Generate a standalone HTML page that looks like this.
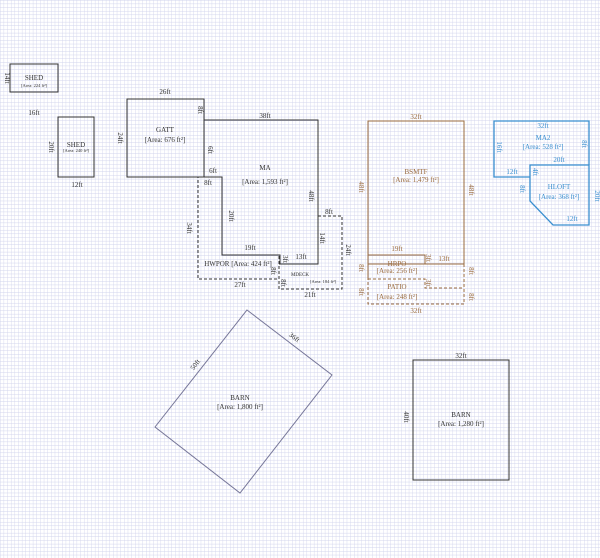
<!DOCTYPE html>
<html><head><meta charset="utf-8"><style>
html,body{margin:0;padding:0;background:#fff;}
svg{display:block;font-family:"Liberation Serif",serif;}
</style></head><body>
<svg width="600" height="558" viewBox="0 0 600 558" xmlns="http://www.w3.org/2000/svg">
<defs>
<pattern id="g" width="3.65" height="3.65" patternUnits="userSpaceOnUse">
<path d="M0 0H3.65M0 0V3.65" stroke="#cfd2ec" stroke-width="0.8" fill="none"/>
</pattern>
</defs>
<rect width="600" height="558" fill="#fff"/>
<rect width="600" height="558" fill="url(#g)"/>

<g fill="none" stroke="#333" stroke-width="1">
<rect x="10" y="64" width="48" height="28"/>
<rect x="58" y="117" width="36" height="60"/>
<rect x="127" y="99" width="77" height="78"/>
<polygon points="204,120 318,120 318,264 280,264 280,255 222,255 222,177 204,177"/>
<rect x="413" y="360" width="96" height="120"/>
</g>
<g fill="none" stroke="#333" stroke-width="1" stroke-dasharray="3,2">
<polygon points="198,177 222,177 222,255 279,255 279,279 198,279"/>
<polygon points="318,216 342,216 342,289 279,289 279,264 318,264"/>
</g>
<polygon points="247,310 332,375 240,493 155,427" fill="none" stroke="#777799" stroke-width="1"/>

<g fill="none" stroke="#9a6b3f" stroke-width="1">
<rect x="368" y="121" width="96" height="143"/>
<polyline points="368,255 425,255 425,264"/>
<line x1="368" y1="255" x2="368" y2="279"/>
</g>
<g fill="none" stroke="#9a6b3f" stroke-width="1" stroke-dasharray="3,2">
<polyline points="368,279 425,279 425,288 464,288"/>
<polyline points="464,264 464,304 368,304 368,279"/>
</g>

<g fill="none" stroke="#3a8fd0" stroke-width="1.3">
<polyline points="530,177 494,177 494,121 589,121 589,165"/>
<polygon points="530,165 589,165 589,225 553,225 530,201"/>
</g>

<g font-size="7" fill="#333" text-anchor="middle">
<text x="34" y="80">SHED</text><text x="34" y="87" font-size="4.5">[Area: 224 ft²]</text>
<text x="34" y="115">16ft</text>
<text transform="translate(5,78) rotate(90)">14ft</text>
<text x="76" y="147">SHED</text><text x="76" y="152" font-size="4.5">[Area: 240 ft²]</text>
<text x="77" y="187">12ft</text>
<text transform="translate(49,147) rotate(90)">20ft</text>
<text x="165" y="94">26ft</text>
<text x="165" y="132">GATT</text><text x="165" y="142">[Area: 676 ft²]</text>
<text transform="translate(118,138) rotate(90)">24ft</text>
<text transform="translate(198,110) rotate(90)">8ft</text>
<text transform="translate(208,150) rotate(90)">6ft</text>
<text x="265" y="118">38ft</text>
<text x="265" y="170">MA</text><text x="265" y="184">[Area: 1,593 ft²]</text>
<text transform="translate(309,196) rotate(90)">48ft</text>
<text x="213" y="173">6ft</text>
<text x="208" y="185">8ft</text>
<text transform="translate(229,216) rotate(90)">20ft</text>
<text transform="translate(187,228) rotate(90)">34ft</text>
<text x="250" y="250">19ft</text>
<text x="301" y="259">13ft</text>
<text transform="translate(283,259) rotate(90)">3ft</text>
<text transform="translate(320,238) rotate(90)">14ft</text>
<text x="329" y="214">8ft</text>
<text transform="translate(346,250) rotate(90)">24ft</text>
<text x="240" y="287">27ft</text>
<text x="310" y="297">21ft</text>
<text transform="translate(271,271) rotate(90)">8ft</text>
<text transform="translate(281,283) rotate(90)">8ft</text>
<text x="238" y="266">HWPOR [Area: 424 ft²]</text>
<text x="300" y="276" font-size="5">MDECK</text>
<text x="323" y="283" font-size="4.5">[Area: 184 ft²]</text>
<text x="461" y="358">32ft</text>
<text x="461" y="417">BARN</text><text x="461" y="426">[Area: 1,280 ft²]</text>
<text transform="translate(404,417) rotate(90)">40ft</text>
<text x="240" y="400">BARN</text><text x="240" y="409">[Area: 1,800 ft²]</text>
<text transform="translate(293,339) rotate(37)">36ft</text>
<text transform="translate(197,366) rotate(-53)">50ft</text>
</g>

<g font-size="7" fill="#9a6b3f" text-anchor="middle">
<text x="416" y="119">32ft</text>
<text x="416" y="174">BSMTF</text><text x="416" y="182">[Area: 1,479 ft²]</text>
<text transform="translate(359,187) rotate(90)">48ft</text>
<text transform="translate(469,190) rotate(90)">48ft</text>
<text x="397" y="251">19ft</text>
<text x="444" y="261">13ft</text>
<text transform="translate(426,258) rotate(90)">3ft</text>
<text x="397" y="266">HRPO</text><text x="397" y="273">[Area: 256 ft²]</text>
<text transform="translate(469,271) rotate(90)">8ft</text>
<text transform="translate(426,283) rotate(90)">3ft</text>
<text x="397" y="289">PATIO</text><text x="397" y="299">[Area: 248 ft²]</text>
<text transform="translate(359,268) rotate(90)">8ft</text>
<text transform="translate(359,292) rotate(90)">8ft</text>
<text transform="translate(469,297) rotate(90)">8ft</text>
<text x="416" y="313">32ft</text>
</g>

<g font-size="7" fill="#3a8fd0" text-anchor="middle">
<text x="543" y="128">32ft</text>
<text x="543" y="140">MA2</text><text x="543" y="149">[Area: 528 ft²]</text>
<text transform="translate(497,147) rotate(90)">16ft</text>
<text transform="translate(582,144) rotate(90)">8ft</text>
<text x="559" y="162">20ft</text>
<text x="512" y="174">12ft</text>
<text transform="translate(533,172) rotate(90)">4ft</text>
<text transform="translate(520,189) rotate(90)">8ft</text>
<text x="559" y="189">HLOFT</text><text x="559" y="199">[Area: 368 ft²]</text>
<text x="572" y="221">12ft</text>
<text transform="translate(595,196) rotate(90)">20ft</text>
</g>
</svg>
</body></html>
